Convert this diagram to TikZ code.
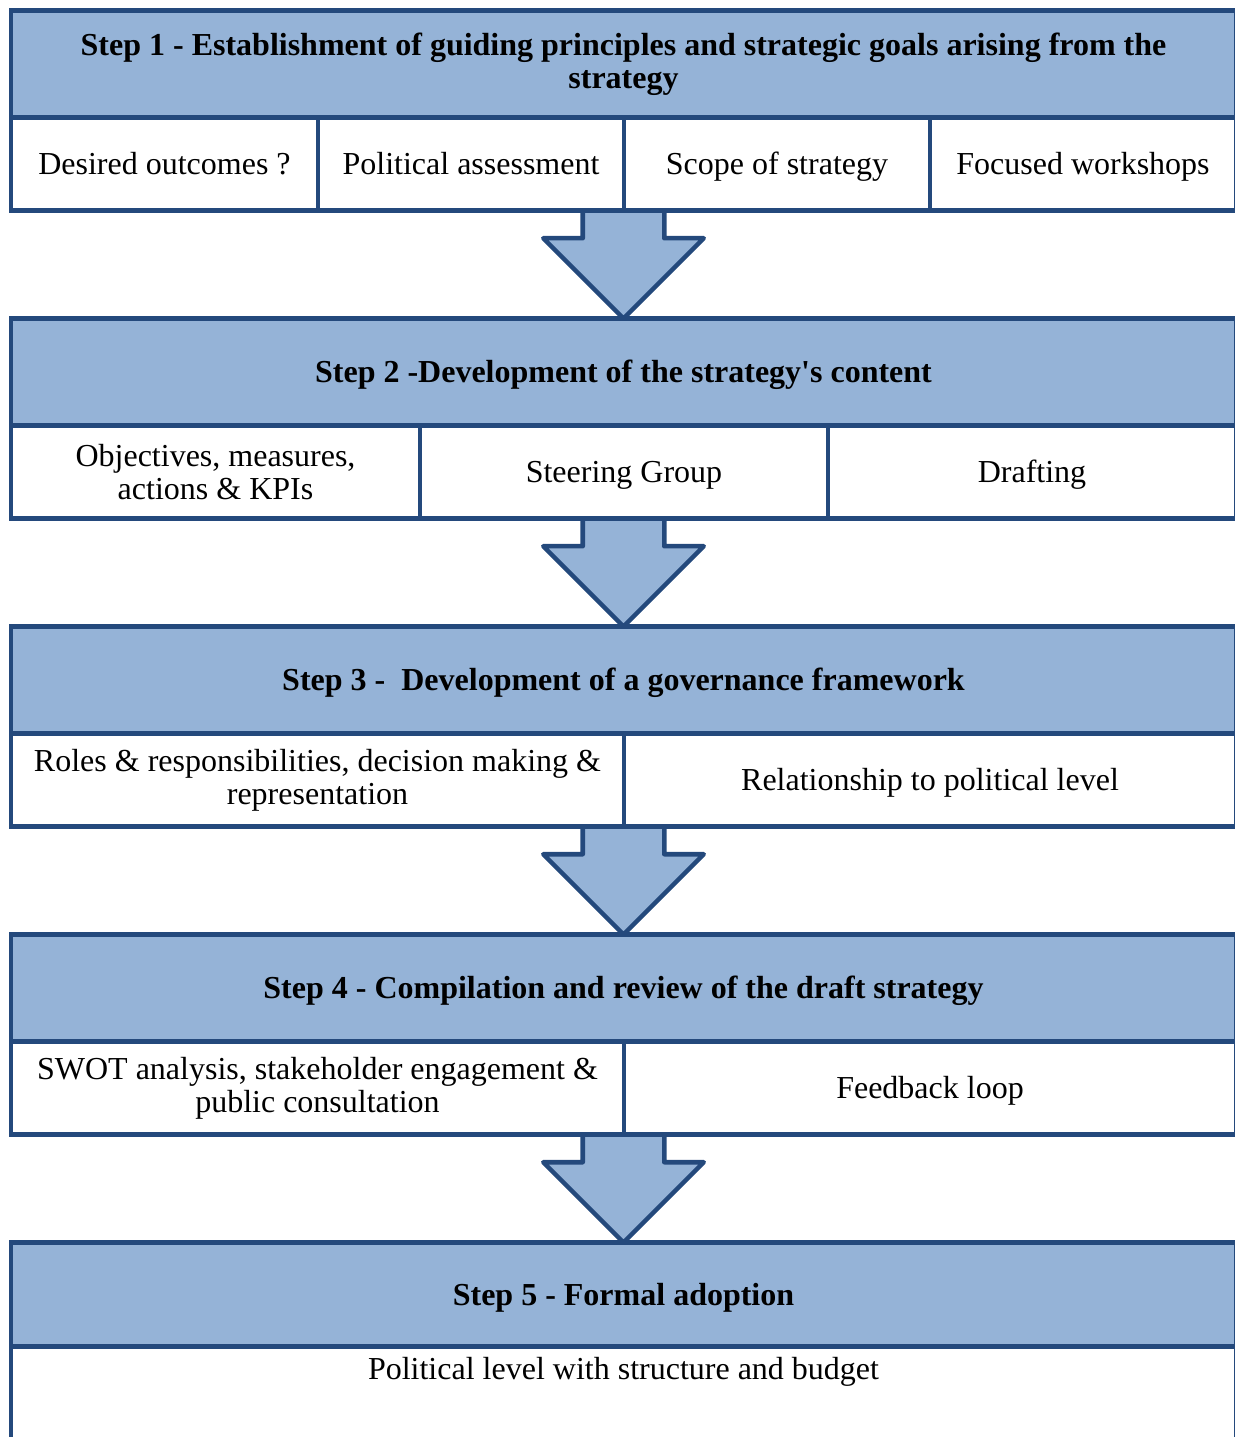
\documentclass[tikz,border=0pt]{standalone}
\usepackage{fontspec}
\setmainfont{Liberation Serif}
\usetikzlibrary{positioning,shapes.arrows}
\definecolor{stepfill}{HTML}{95B3D7}
\definecolor{stepline}{HTML}{24497C}
\newcommand{\pxu}{0.375pt}
\tikzset{
  box/.style={draw=stepline, line width=1.7pt, inner sep=0pt, outer sep=0pt, align=center, font=\fontsize{12}{12.4}\selectfont},
  one line/.style={text height=8.2pt, text depth=0pt},
  step head/.style={box, fill=stepfill, font=\bfseries\fontsize{12}{12.4}\selectfont, minimum width={1225*\pxu}, minimum height={107*\pxu}},
  sub cell/.style={box, fill=white, minimum height={93*\pxu}},
  step arrow/.style={single arrow, draw=stepline, fill=stepfill, line width=1.7pt, line join=round, outer sep=0pt, shape border rotate=270, anchor=tail, inner xsep={38.5*\pxu}, inner ysep=0pt, single arrow head extend={39.5*\pxu}, minimum height={108*\pxu}},
}

\begin{document}
\begin{tikzpicture}[x=\pxu,y=-\pxu]
\useasboundingbox (0,0) rectangle (1234,1437);
% step 1
\node [step head, anchor=north west] (h1) at (11,10.5) {Step 1 - Establishment of guiding principles and strategic goals arising from the\\strategy};
\node [sub cell, one line, minimum width={307*\pxu}, anchor=north west] (c11) at (h1.south west) {Desired outcomes ?};
\node [sub cell, one line, minimum width={306*\pxu}, right=0pt of c11] (c12) {Political assessment};
\node [sub cell, one line, minimum width={306*\pxu}, right=0pt of c12] (c13) {Scope of strategy};
\node [sub cell, one line, minimum width={306*\pxu}, right=0pt of c13] (c14) {Focused workshops};
\node [step arrow] (a1) at (h1.south |- c11.south) {};
% step 2
\node [step head, one line, anchor=north] (h2) at (a1.tip) {Step 2 -Development of the strategy\textquotesingle s content};
\node [sub cell, minimum width={409*\pxu}, anchor=north west] (c21) at (h2.south west) {Objectives, measures,\\actions \& KPIs};
\node [sub cell, one line, minimum width={408*\pxu}, right=0pt of c21] (c22) {Steering Group};
\node [sub cell, one line, minimum width={408*\pxu}, right=0pt of c22] (c23) {Drafting};
\node [step arrow] (a2) at (h2.south |- c21.south) {};
% step 3
\node [step head, one line, anchor=north] (h3) at (a2.tip) {Step 3 -\ \ Development of a governance framework};
\node [sub cell, minimum width={613*\pxu}, anchor=north west] (c31) at (h3.south west) {Roles \& responsibilities, decision making \&\\representation};
\node [sub cell, one line, minimum width={612*\pxu}, right=0pt of c31] (c32) {Relationship to political level};
\node [step arrow] (a3) at (h3.south |- c31.south) {};
% step 4
\node [step head, one line, anchor=north] (h4) at (a3.tip) {Step 4 - Compilation and review of the draft strategy};
\node [sub cell, minimum width={613*\pxu}, anchor=north west] (c41) at (h4.south west) {SWOT analysis, stakeholder engagement \&\\public consultation};
\node [sub cell, one line, minimum width={612*\pxu}, right=0pt of c41] (c42) {Feedback loop};
\node [step arrow] (a4) at (h4.south |- c41.south) {};
% step 5
\node [step head, one line, minimum height={104*\pxu}, anchor=north] (h5) at (a4.tip) {Step 5 - Formal adoption};
\node [sub cell, minimum width={1225*\pxu}, text height=12.5pt, text depth=22.4pt, anchor=north west] (c51) at (h5.south west) {Political level with structure and budget};
\end{tikzpicture}
\end{document}
